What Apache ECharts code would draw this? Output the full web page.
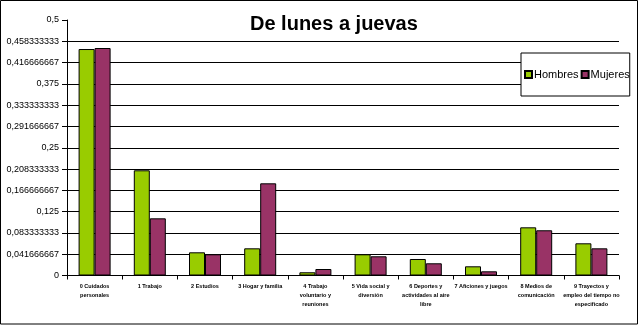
<!DOCTYPE html>
<html>
<head>
<meta charset="utf-8">
<script src="https://cdn.jsdelivr.net/npm/echarts@6/dist/echarts.min.js"></script>
<style>
  html, body { margin: 0; padding: 0; background: #fff; }
  #chart { width: 639px; height: 326px; }
</style>
</head>
<body>
<div id="chart"></div>
<script>
// Activity groups (time share, Monday to Thursday)
const categories = [
  '0 Cuidados\npersonales',
  '1 Trabajo',
  '2 Estudios',
  '3 Hogar y familia',
  '4 Trabajo\nvoluntario y\nreuniones',
  '5 Vida social y\ndiversión',
  '6 Deportes y\nactividades al aire\nlibre',
  '7 Aficiones y juegos',
  '8 Medios de\ncomunicación',
  '9 Trayectos y\nempleo del tiempo no\nespecificado'
];

const hombres = [0.4432, 0.2059, 0.0454, 0.0532, 0.0063, 0.0415, 0.0323, 0.0180, 0.0943, 0.0630];
const mujeres = [0.4452, 0.1119, 0.0415, 0.1804, 0.0127, 0.0376, 0.0239, 0.0082, 0.0885, 0.0532];

const yTickLabels = [
  '0', '0,041666667', '0,083333333', '0,125', '0,166666667', '0,208333333',
  '0,25', '0,291666667', '0,333333333', '0,375', '0,416666667', '0,458333333', '0,5'
];

const FONT = 'Liberation Sans, Arial, Helvetica, sans-serif';
const chart = echarts.init(document.getElementById('chart'), null, { renderer: 'canvas' });

chart.setOption({
  animation: false,
  backgroundColor: '#fff',
  title: {
    text: 'De lunes a juevas',
    left: 250,
    top: 14,
    padding: 0,
    textStyle: { fontFamily: FONT, fontSize: 20, fontWeight: 'bold', color: '#000' }
  },
  legend: {
    left: 521,
    top: 53,
    orient: 'horizontal',
    backgroundColor: '#fff',
    borderColor: '#000',
    borderWidth: 1,
    borderRadius: 0,
    padding: [16, 0, 16, 3],
    itemWidth: 7,
    itemHeight: 7,
    itemGap: 2,
    icon: 'rect',
    textStyle: { fontFamily: FONT, fontSize: 11, color: '#000', padding: [0, 0, 0, -3] },
    data: ['Hombres', 'Mujeres']
  },
  grid: { left: 67, top: 20, right: 20, bottom: 50.5, containLabel: false },
  xAxis: {
    type: 'category',
    data: categories,
    boundaryGap: true,
    axisLine: { show: true, lineStyle: { color: '#000', width: 1 } },
    axisTick: { show: true, alignWithLabel: false, inside: false, length: 4, lineStyle: { color: '#000' } },
    axisLabel: {
      interval: 0,
      margin: 6,
      fontFamily: FONT,
      fontSize: 5.5,
      fontWeight: 'bold',
      lineHeight: 9.3,
      color: '#000',
      align: 'center'
    },
    splitLine: { show: false }
  },
  yAxis: {
    type: 'value',
    min: 0,
    max: 0.5,
    interval: 1 / 24,
    axisLine: { show: true, lineStyle: { color: '#000', width: 1 } },
    axisTick: { show: true, length: 5, lineStyle: { color: '#000' } },
    axisLabel: {
      margin: 8,
      fontFamily: FONT,
      fontSize: 9,
      color: '#000',
      formatter: function (v) { return yTickLabels[Math.round(v * 24)]; }
    },
    splitLine: { show: true, showMinLine: false, showMaxLine: false, lineStyle: { color: '#000', width: 1 } }
  },
  series: [
    {
      name: 'Hombres',
      type: 'bar',
      data: hombres,
      barWidth: 16,
      barGap: '0%',
      itemStyle: { color: '#99CC00', borderColor: '#000', borderWidth: 1 }
    },
    {
      name: 'Mujeres',
      type: 'bar',
      data: mujeres,
      barWidth: 16,
      barGap: '0%',
      itemStyle: { color: '#993366', borderColor: '#000', borderWidth: 1 }
    }
  ],
  graphic: [
    {
      type: 'rect',
      silent: true,
      z: 100,
      shape: { x: 0.5, y: 0.5, width: 637, height: 323.5 },
      style: { fill: 'none', stroke: '#000', lineWidth: 1 }
    }
  ]
});
</script>
</body>
</html>
